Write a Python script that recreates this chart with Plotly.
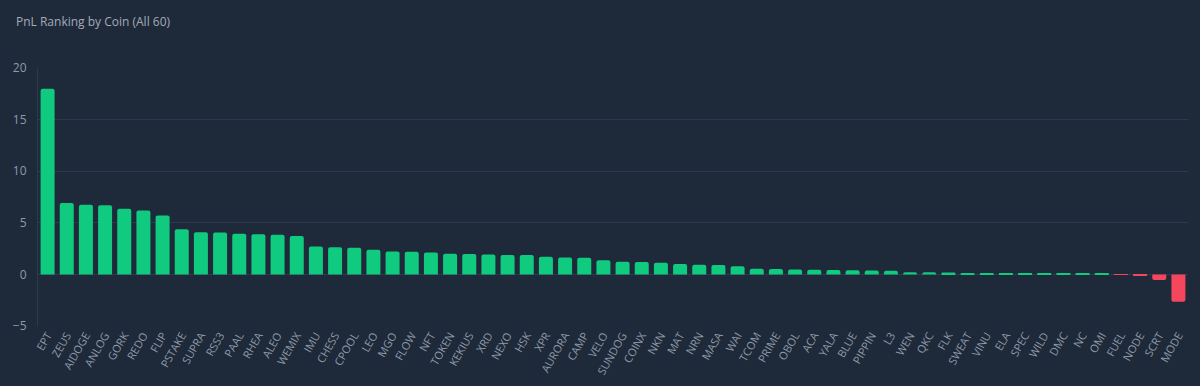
import plotly.graph_objects as go

coins = ["EPT","ZEUS","AIDOGE","ANLOG","GORK","REDO","FLIP","PSTAKE","SUPRA","RSS3",
         "PAAL","RHEA","ALEO","WEMIX","IMU","CHESS","CPOOL","LEO","MGO","FLOW",
         "NFT","TOKEN","KEKIUS","XRD","NEXO","HSK","XPR","AURORA","CAMP","VELO",
         "SUNDOG","COINX","NKN","MAT","NRN","MASA","WAI","TCOM","PRIME","OBOL",
         "ACA","YALA","BLUE","PIPPIN","L3","WEN","QKC","FLK","SWEAT","VINU",
         "ELA","SPEC","WILD","DMC","NC","OMI","FUEL","NODE","SCRT","MODE"]
pnl = [18.0, 6.93, 6.76, 6.70, 6.35, 6.18, 5.70, 4.38, 4.09, 4.06,
       3.93, 3.90, 3.83, 3.73, 2.70, 2.64, 2.58, 2.38, 2.22, 2.19,
       2.12, 2.00, 1.97, 1.93, 1.87, 1.87, 1.71, 1.64, 1.61, 1.38,
       1.22, 1.19, 1.13, 1.00, 0.93, 0.90, 0.80, 0.55, 0.52, 0.48,
       0.45, 0.42, 0.40, 0.38, 0.35, 0.21, 0.20, 0.18, 0.11, 0.10,
       0.09, 0.08, 0.07, 0.05, 0.05, 0.04, -0.05, -0.06, -0.55, -2.65]
y_ticks = [-5, 0, 5, 10, 15, 20]

GREEN = "#10ca80"
RED = "#f6465d"
BG = "#1e2a3a"
GRID = "#2c3a4c"
TXT = "#8f99a8"

colors = [GREEN if v >= 0 else RED for v in pnl]

fig = go.Figure(go.Bar(x=coins, y=pnl, marker=dict(color=colors, line=dict(width=0), cornerradius=2),
                       hovertemplate="%{x}: %{y:.2f}<extra></extra>"))

fig.update_layout(
    width=1200, height=386,
    paper_bgcolor=BG, plot_bgcolor=BG,
    margin=dict(l=38, r=12, t=68, b=60),
    bargap=0.27,
    showlegend=False,
    font=dict(family="Open Sans, Noto Sans, sans-serif", color=TXT, size=11),
    title=dict(text="PnL Ranking by Coin (All 60)", x=16 / 1200, xref="container", xanchor="left",
               y=1 - 22 / 386, yref="container", yanchor="middle",
               font=dict(size=12, color="#a3abb8")),
)

fig.update_xaxes(type="category", tickangle=-60, showgrid=False, showline=False, zeroline=False,
                 ticks="", automargin=False, tickfont=dict(size=11, color=TXT))
fig.update_yaxes(range=[-5, 20], tickvals=y_ticks, showgrid=True, gridcolor=GRID, gridwidth=1,
                 zeroline=True, zerolinecolor=GRID, zerolinewidth=1, automargin=False,
                 showline=True, linecolor=GRID, linewidth=1, ticks="", ticklabelstandoff=8,
                 tickfont=dict(size=12, color=TXT))

fig.write_html("out.html")
